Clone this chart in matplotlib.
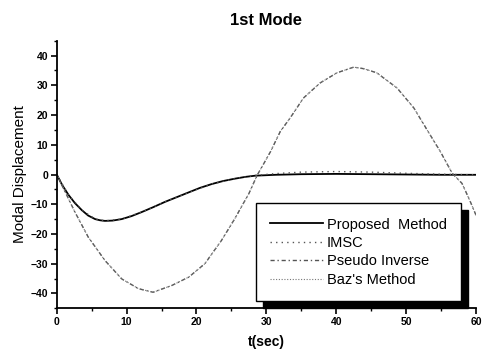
import numpy as np
import matplotlib.pyplot as plt

plt.rcParams['font.family'] = ['Liberation Sans', 'DejaVu Sans']

# modal displacement of the 1st mode, read at the sample times below
t_prop = [0, 0.8, 1.7, 2.6, 3.6, 4.5, 5.5, 6.2, 6.9, 8.0, 9.3, 10.7, 12.2,
          13.8, 15.5, 17.2, 18.9, 20.5, 22.2, 23.8, 25.5, 27.0, 28.4, 31.3,
          35, 40, 45, 50, 55, 60]
y_prop = [0, -3.6, -6.9, -9.6, -12.0, -13.8, -15.0, -15.4, -15.6, -15.5,
          -15.0, -14.0, -12.6, -11.0, -9.2, -7.6, -6.0, -4.5, -3.2, -2.2,
          -1.4, -0.8, -0.4, -0.1, 0.1, 0.2, 0.1, 0.0, -0.1, -0.1]

t_imsc = [0, 1.7, 3.6, 5.5, 6.9, 9.3, 12.2, 15.5, 18.9, 22.2, 25.5, 28.4,
          31.3, 35, 40, 45, 50, 55, 60]
y_imsc = [0, -6.9, -12.0, -15.0, -15.6, -15.0, -12.6, -9.2, -6.0, -3.2, -1.4,
          -0.3, 0.3, 0.8, 1.0, 0.8, 0.4, 0.1, -0.1]

t_pinv = [0, 2.6, 4.5, 6.9, 9.3, 11.7, 13.8, 16.5, 18.9, 21.2, 23.6, 25.5,
          27.5, 28.7, 30.6, 32.0, 33.4, 35.3, 37.7, 40.1, 42.5, 43.9, 45.8,
          48.7, 51.1, 53.0, 54.9, 56.6, 58.0, 59.2, 60]
y_pinv = [0, -12.6, -21.0, -28.9, -35.1, -38.4, -39.6, -37.3, -34.5, -30.0,
          -22.1, -14.8, -6.4, -0.2, 7.7, 14.5, 19.0, 25.7, 30.8, 34.2, 36.1,
          35.6, 34.2, 29.1, 22.4, 15.0, 7.7, 0.4, -3.0, -9.2, -13.7]

t_baz = t_pinv
y_baz = y_pinv

fig = plt.figure(figsize=(4.83, 3.57), dpi=100)
ax = fig.add_axes([0.1174, 0.1364, 0.8681, 0.7496])

ax.plot(t_prop, y_prop, color='black', lw=1.3, label='Proposed  Method')
ax.plot(t_imsc, y_imsc, color='#555555', lw=1.0, ls=(0, (1, 3)), label='IMSC')
ax.plot(t_pinv, y_pinv, color='#555555', lw=1.0, ls=(0, (3, 2, 1, 2)),
        label='Pseudo Inverse')
ax.plot(t_baz, y_baz, color='#777777', lw=0.8, ls=(0, (1, 1.5)),
        label="Baz's Method")

ax.set_xlim(0, 60)
ax.set_ylim(-45, 45)
ax.set_xticks(np.arange(0, 61, 10))
ax.set_xticks(np.arange(0, 61, 5), minor=True)
ax.set_yticks(np.arange(-40, 41, 10))
ax.set_yticks(np.arange(-45, 46, 5), minor=True)

for side in ['top', 'right']:
    ax.spines[side].set_visible(False)
for side in ['left', 'bottom']:
    ax.spines[side].set_linewidth(1.3)

ax.tick_params(which='major', direction='out', length=4, width=1.2,
               labelsize=7.5, pad=2)
ax.tick_params(which='minor', direction='out', length=2.5, width=1.0)
for lbl in ax.get_xticklabels() + ax.get_yticklabels():
    lbl.set_fontweight('bold')

ax.set_title('1st Mode', fontsize=12, fontweight='bold', pad=11)
ax.set_xlabel('t(sec)', fontsize=10, fontweight='bold', labelpad=6)
ax.set_ylabel('Modal Displacement', fontsize=11, labelpad=3)

leg = ax.legend(loc='upper left', bbox_to_anchor=(0.475, 0.3935),
                fancybox=False, framealpha=1, edgecolor='black',
                shadow={'color': 'black', 'alpha': 1.0, 'ox': 5, 'oy': -5},
                fontsize=10.5, handlelength=3.6, handletextpad=0.25,
                labelspacing=0.3, borderpad=1.0, borderaxespad=0)
leg.get_frame().set_linewidth(1.0)

fig.savefig('out.png', dpi=100)
